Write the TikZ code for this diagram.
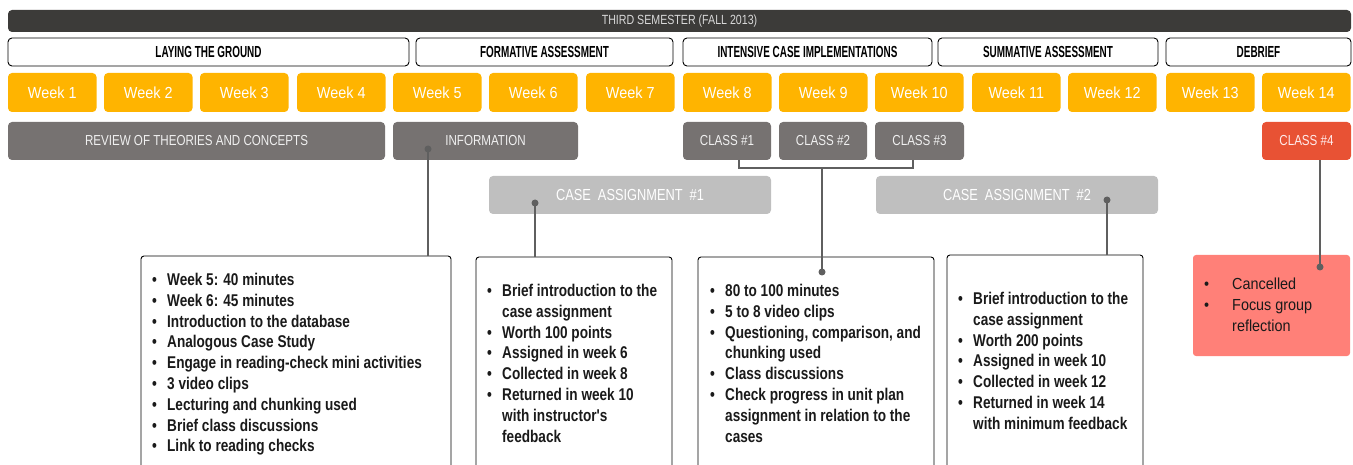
\documentclass[tikz,border=0pt]{standalone}
\usepackage{fontspec}
\setmainfont{Liberation Sans}
\newfontfamily\condf{Liberation Sans}[FakeStretch=0.8]
\newfontfamily\headf{Liberation Sans}[FakeStretch=0.62]
\newfontfamily\weekf{Liberation Sans}[FakeStretch=0.9]
\usetikzlibrary{calc}
\definecolor{barc}{HTML}{3C3B39}
\definecolor{bartext}{HTML}{D9D9D9}
\definecolor{weekc}{HTML}{FFB400}
\definecolor{grayc}{HTML}{767271}
\definecolor{casec}{HTML}{BFBFBF}
\definecolor{classred}{HTML}{E85234}
\definecolor{pinkc}{HTML}{FF8078}
\definecolor{connc}{HTML}{5F5F5F}
\definecolor{txtc}{HTML}{1A1A1A}
\newcommand{\bul}{\makebox[15pt][l]{\textbullet}}
\newcommand{\ind}{\hspace*{15pt}}
\begin{document}
\begin{tikzpicture}[x=1pt,y=-1pt,
  box/.style={rectangle, rounded corners=4pt, inner sep=0pt, outer sep=0pt, anchor=north west},
  topbar/.style={box, fill=barc, text=bartext, font=\condf\fontsize{13.3}{15}\selectfont},
  phase/.style={box, draw=black, line width=0.9pt, fill=white, minimum height=28pt, font=\headf\bfseries\fontsize{16}{18}\selectfont},
  week/.style={box, fill=weekc, text=white, minimum width=88.5pt, minimum height=39pt, font=\weekf\fontsize{16}{18}\selectfont},
  gbox/.style={box, fill=grayc, text=white!88!gray, minimum height=38pt, font=\condf\fontsize{14.5}{16}\selectfont},
  cbox/.style={box, fill=casec, text=white, minimum height=38pt, font=\condf\fontsize{16}{18}\selectfont},
  detail/.style={box, draw=black, line width=0.9pt, fill=white, rounded corners=3pt, minimum height=230pt},
  dtext/.style={anchor=north west, inner sep=0pt, align=left, text=txtc, font=\condf\bfseries\fontsize{17}{20.8}\selectfont},
  conn/.style={draw=connc, line width=2pt},
  dot/.style={fill=connc, draw=none, circle, minimum size=7pt, inner sep=0pt}
]
\useasboundingbox (0,0) rectangle (1353,465);
\clip (0,0) rectangle (1353,465);

% top bar
\node[topbar, minimum width=1343pt, minimum height=22pt] (sem) at (8,10) {THIRD SEMESTER (FALL 2013)};

% phases
\node[phase, minimum width=401pt] (p1) at (8,38) {LAYING THE GROUND};
\node[phase, minimum width=257pt] (p2) at (416,38) {FORMATIVE ASSESSMENT};
\node[phase, minimum width=249pt] (p3) at (683,38) {INTENSIVE CASE IMPLEMENTATIONS};
\node[phase, minimum width=220pt] (p4) at (938,38) {SUMMATIVE ASSESSMENT};
\node[phase, minimum width=185pt] (p5) at (1166,38) {DEBRIEF};

% weeks
\node[week] (w1) at (8,73) {Week 1};
\node[week] (w2) at (104,73) {Week 2};
\node[week] (w3) at (200,73) {Week 3};
\node[week] (w4) at (297,73) {Week 4};
\node[week] (w5) at (393,73) {Week 5};
\node[week] (w6) at (489,73) {Week 6};
\node[week] (w7) at (586,73) {Week 7};
\node[week] (w8) at (683,73) {Week 8};
\node[week] (w9) at (779,73) {Week 9};
\node[week] (w10) at (875,73) {Week 10};
\node[week] (w11) at (972,73) {Week 11};
\node[week] (w12) at (1068,73) {Week 12};
\node[week] (w13) at (1166,73) {Week 13};
\node[week] (w14) at (1262,73) {Week 14};

% gray row
\node[gbox, minimum width=377pt] (rev) at (8,122) {REVIEW OF THEORIES AND CONCEPTS};
\node[gbox, minimum width=185pt] (info) at (393,122) {INFORMATION};
\node[gbox, minimum width=88pt] (c1) at (683,122) {CLASS \#1};
\node[gbox, minimum width=88pt] (c2) at (779,122) {CLASS \#2};
\node[gbox, minimum width=89pt] (c3) at (875,122) {CLASS \#3};
\node[gbox, fill=classred, text=white!92!red, minimum width=89pt] (c4) at (1262,122) {CLASS \#4};

% case assignments
\node[cbox, minimum width=282pt] (ca1) at (489,176) {CASE\ \ ASSIGNMENT\ \ \#1};
\node[cbox, minimum width=282pt] (ca2) at (876,176) {CASE\ \ ASSIGNMENT\ \ \#2};

% detail boxes
\node[detail, minimum width=310pt] (b1) at (141,256) {};
\node[detail, minimum width=196pt] (b2) at (476,257) {};
\node[detail, minimum width=236pt] (b3) at (698,257) {};
\node[detail, minimum width=196pt] (b4) at (947,255) {};
\node[box, fill=pinkc, rounded corners=3pt, minimum width=157pt, minimum height=101pt] (b5) at (1193,255) {};

% detail texts
\node[dtext] (t1) at (152,273) {\bul Week 5: 40 minutes\\ \bul Week 6: 45 minutes\\ \bul Introduction to the database\\ \bul Analogous Case Study\\ \bul Engage in reading-check mini activities\\ \bul 3 video clips\\ \bul Lecturing and chunking used\\ \bul Brief class discussions\\ \bul Link to reading checks};
\node[dtext] (t2) at (487,284) {\bul Brief introduction to the\\ \ind case assignment\\ \bul Worth 100 points\\ \bul Assigned in week 6\\ \bul Collected in week 8\\ \bul Returned in week 10\\ \ind with instructor's\\ \ind feedback};
\node[dtext] (t3) at (710,284) {\bul 80 to 100 minutes\\ \bul 5 to 8 video clips\\ \bul Questioning, comparison, and\\ \ind chunking used\\ \bul Class discussions\\ \bul Check progress in unit plan\\ \ind assignment in relation to the\\ \ind cases};
\node[dtext] (t4) at (958,292) {\bul Brief introduction to the\\ \ind case assignment\\ \bul Worth 200 points\\ \bul Assigned in week 10\\ \bul Collected in week 12\\ \bul Returned in week 14\\ \ind with minimum feedback};
\node[dtext, font=\weekf\fontsize{16}{21}\selectfont] (t5) at (1204,278) {\makebox[28pt][l]{\textbullet}Cancelled\\ \makebox[28pt][l]{\textbullet}Focus group\\ \hspace*{28pt}reflection};

% connectors
\coordinate (d1) at (428,149);
\coordinate (d2) at (535,203);
\coordinate (d3) at (822,272);
\coordinate (d4) at (1107,200);
\coordinate (d5) at (1320,267);
\draw[conn] (d1) -- (d1 |- b1.north);
\node[dot] at (d1) {};
\draw[conn] (d2) -- (d2 |- b2.north);
\node[dot] at (d2) {};
\draw[conn] ($(c1.south)+(12,0)$) -- ++(0,8) -| ($(c3.south)+(-7,0)$);
\draw[conn] (d3 |- 0,169) -- (d3);
\node[dot] at (d3) {};
\draw[conn] (d4) -- (d4 |- b4.north);
\node[dot] at (d4) {};
\draw[conn] (d5 |- c4.south) -- (d5);
\node[dot] at (d5) {};
\end{tikzpicture}
\end{document}
